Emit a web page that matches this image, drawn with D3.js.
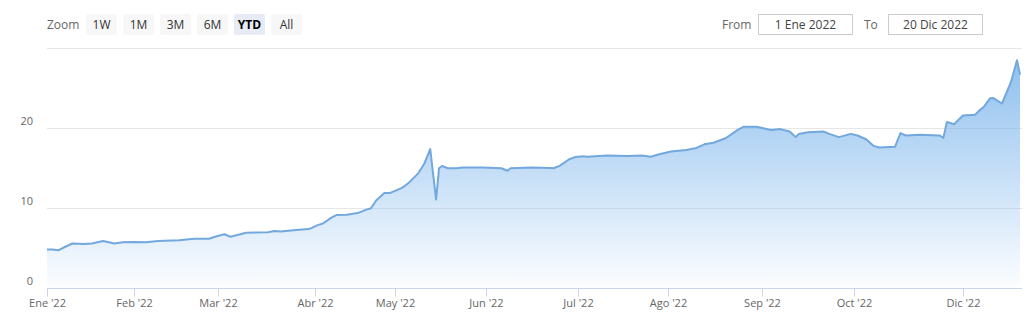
<!DOCTYPE html>
<html>
<head>
<meta charset="utf-8">
<script src="https://cdn.jsdelivr.net/npm/d3@7/dist/d3.min.js"></script>
<style>
  html, body { margin: 0; padding: 0; background: #fff; }
  svg { display: block; font-family: "Open Sans", "Noto Sans", sans-serif; }
</style>
</head>
<body>
<svg id="chart" width="1035" height="317"></svg>
<script>
// ---------------- data ----------------
const dates = [
  "2022-01-01","2022-01-03","2022-01-05","2022-01-07","2022-01-10","2022-01-14","2022-01-17","2022-01-21","2022-01-25","2022-01-28",
  "2022-02-01","2022-02-05","2022-02-09","2022-02-16","2022-02-21","2022-02-26","2022-02-28",
  "2022-03-03","2022-03-05","2022-03-10","2022-03-17","2022-03-19","2022-03-21","2022-03-26","2022-03-30","2022-03-31",
  "2022-04-02","2022-04-04","2022-04-07","2022-04-09","2022-04-13","2022-04-17","2022-04-20","2022-04-22","2022-04-24","2022-04-27","2022-04-29",
  "2022-05-03","2022-05-04","2022-05-06","2022-05-09","2022-05-11","2022-05-13","2022-05-15","2022-05-16","2022-05-17","2022-05-19","2022-05-22","2022-05-24","2022-05-31",
  "2022-06-06","2022-06-08","2022-06-09","2022-06-16","2022-06-22","2022-06-23","2022-06-25","2022-06-28","2022-06-30",
  "2022-07-03","2022-07-04","2022-07-11","2022-07-18","2022-07-23","2022-07-26","2022-07-29",
  "2022-08-02","2022-08-07","2022-08-10","2022-08-13","2022-08-16","2022-08-20","2022-08-24","2022-08-26","2022-08-30",
  "2022-09-04","2022-09-07","2022-09-10","2022-09-12","2022-09-13","2022-09-16","2022-09-21","2022-09-23","2022-09-26","2022-09-30",
  "2022-10-03","2022-10-08","2022-10-12","2022-10-15","2022-10-24","2022-10-27","2022-10-30",
  "2022-11-07","2022-11-18","2022-11-20","2022-11-22","2022-11-26",
  "2022-12-01","2022-12-05","2022-12-07","2022-12-08","2022-12-10","2022-12-11","2022-12-14","2022-12-17","2022-12-19","2022-12-20"
];
const values = [
  4.85,4.85,4.75,5.1,5.6,5.55,5.6,5.9,5.6,5.75,
  5.8,5.75,5.9,6.0,6.2,6.2,6.45,
  6.75,6.45,6.95,7.0,7.15,7.1,7.3,7.4,7.55,
  7.9,8.1,8.8,9.15,9.2,9.4,9.8,10.0,11.0,11.9,11.9,
  12.5,12.7,13.3,14.4,15.6,17.4,11.1,15.0,15.3,15.0,15.0,15.1,15.1,
  15.0,14.7,15.0,15.1,15.05,15.0,15.3,16.1,16.4,
  16.5,16.45,16.6,16.55,16.6,16.45,16.75,
  17.1,17.3,17.5,18.0,18.2,18.75,19.8,20.2,20.2,
  19.8,19.9,19.6,18.9,19.3,19.5,19.6,19.3,18.9,19.3,
  19.1,18.6,17.8,17.6,17.7,19.4,19.1,
  19.2,19.1,18.8,20.8,20.5,
  21.6,21.7,22.4,22.7,23.75,23.8,23.1,25.8,28.5,26.7
];

// ordinal-style x axis: month anchors and their relative widths (number of data slots)
const axisAnchors = ["2022-01-01","2022-02-01","2022-03-01","2022-04-01","2022-05-01","2022-06-01",
                     "2022-07-01","2022-08-01","2022-09-01","2022-10-01","2022-12-01","2022-12-20"];
const axisSlots = [87,84,97,80,91,92,90,94,92,109,57];
const tickLabels = ["Ene '22","Feb '22","Mar '22","Abr '22","May '22","Jun '22",
                    "Jul '22","Ago '22","Sep '22","Oct '22","Dic '22"];
const yTicks = [0,10,20,30];
const yLabels = ["0","10","20"];
const zoomButtons = ["1W","1M","3M","6M","YTD","All"];
const selectedButton = "YTD";
const fromText = "1 Ene 2022";
const toText = "20 Dic 2022";

// ---------------- layout ----------------
const svg = d3.select("#chart");
const plotLeft = 47, plotRight = 1020, plotTop = 48.3, plotBottom = 288.3;
const parse = d3.utcParse("%Y-%m-%d");

const totalSlots = d3.sum(axisSlots);
const cum = [0]; axisSlots.forEach(s => cum.push(cum[cum.length-1] + s));
const x = d3.scaleUtc()
  .domain(axisAnchors.map(parse))
  .range(cum.map(c => plotLeft + (plotRight - plotLeft) * c / totalSlots));
const y = d3.scaleLinear().domain([0, 30]).range([plotBottom, plotTop]);

const data = dates.map((d, i) => ({ date: parse(d), value: values[i] }));

// gradient
const defs = svg.append("defs");
const grad = defs.append("linearGradient")
  .attr("id", "areaGrad").attr("gradientUnits", "userSpaceOnUse")
  .attr("x1", 0).attr("x2", 0).attr("y1", y(d3.max(values))).attr("y2", plotBottom);
grad.append("stop").attr("offset", 0).attr("stop-color", "#7cb5ec").attr("stop-opacity", 0.85);
grad.append("stop").attr("offset", 1).attr("stop-color", "#7cb5ec").attr("stop-opacity", 0.02);

// gridlines
svg.append("g").selectAll("line").data(yTicks.filter(t => t > 0)).join("line")
  .attr("x1", plotLeft).attr("x2", plotRight + 2)
  .attr("y1", d => Math.round(y(d)) + 0.5).attr("y2", d => Math.round(y(d)) + 0.5)
  .attr("stroke", "#e6e6e6").attr("stroke-width", 1);

// y labels
svg.append("g").selectAll("text").data(yLabels).join("text")
  .attr("x", 33).attr("y", d => y(+d) - 3)
  .attr("text-anchor", "end")
  .attr("font-size", 11).attr("fill", "#666")
  .text(d => d);

// area + line
const area = d3.area().x(d => x(d.date)).y0(y(0)).y1(d => y(d.value));
const line = d3.line().x(d => x(d.date)).y(d => y(d.value));
svg.append("path").datum(data).attr("d", area).attr("fill", "url(#areaGrad)");
svg.append("path").datum(data).attr("d", line)
  .attr("fill", "none").attr("stroke", "#72a8dd").attr("stroke-width", 2)
  .attr("stroke-linejoin", "round");

// x axis
const tickDates = axisAnchors.slice(0, tickLabels.length).map(parse);
const xAxis = d3.axisBottom(x).tickValues(tickDates)
  .tickFormat((d, i) => tickLabels[i]).tickSize(8).tickSizeOuter(0).tickPadding(3);
const gx = svg.append("g").attr("transform", `translate(0,${Math.round(plotBottom) + 0.5})`).call(xAxis);
gx.select(".domain").attr("stroke", "#ccd6eb").attr("d", `M${plotLeft},0H${plotRight + 2}`);
gx.selectAll(".tick line").attr("stroke", "#ccd6eb");
gx.selectAll(".tick text").attr("fill", "#666").attr("font-size", 11)
  .attr("font-family", "\"Open Sans\", sans-serif");

// range selector
svg.append("text").attr("x", 47).attr("y", 28.5).attr("font-size", 12).attr("fill", "#666").text("Zoom");
const btn = svg.append("g").selectAll("g").data(zoomButtons).join("g")
  .attr("transform", (d, i) => `translate(${86 + i * 37},14)`);
btn.append("rect").attr("width", 31).attr("height", 21).attr("rx", 2)
  .attr("fill", d => d === selectedButton ? "#e6ebf5" : "#f7f7f7");
btn.append("text").attr("x", 15.5).attr("y", 14.5).attr("text-anchor", "middle")
  .attr("font-size", 12)
  .attr("font-weight", d => d === selectedButton ? "bold" : "normal")
  .attr("fill", d => d === selectedButton ? "#000" : "#333")
  .text(d => d);

// from / to inputs
svg.append("text").attr("x", 722).attr("y", 28.5).attr("font-size", 12).attr("fill", "#666").text("From");
svg.append("text").attr("x", 864).attr("y", 28.5).attr("font-size", 12).attr("fill", "#666").text("To");
[[758.5, fromText], [888.5, toText]].forEach(([bx, t]) => {
  svg.append("rect").attr("x", bx).attr("y", 14.5).attr("width", 94).attr("height", 20)
    .attr("fill", "#fff").attr("stroke", "#cccccc");
  svg.append("text").attr("x", bx + 47).attr("y", 29).attr("text-anchor", "middle")
    .attr("font-size", 12).attr("fill", "#444").text(t);
});
</script>
</body>
</html>
